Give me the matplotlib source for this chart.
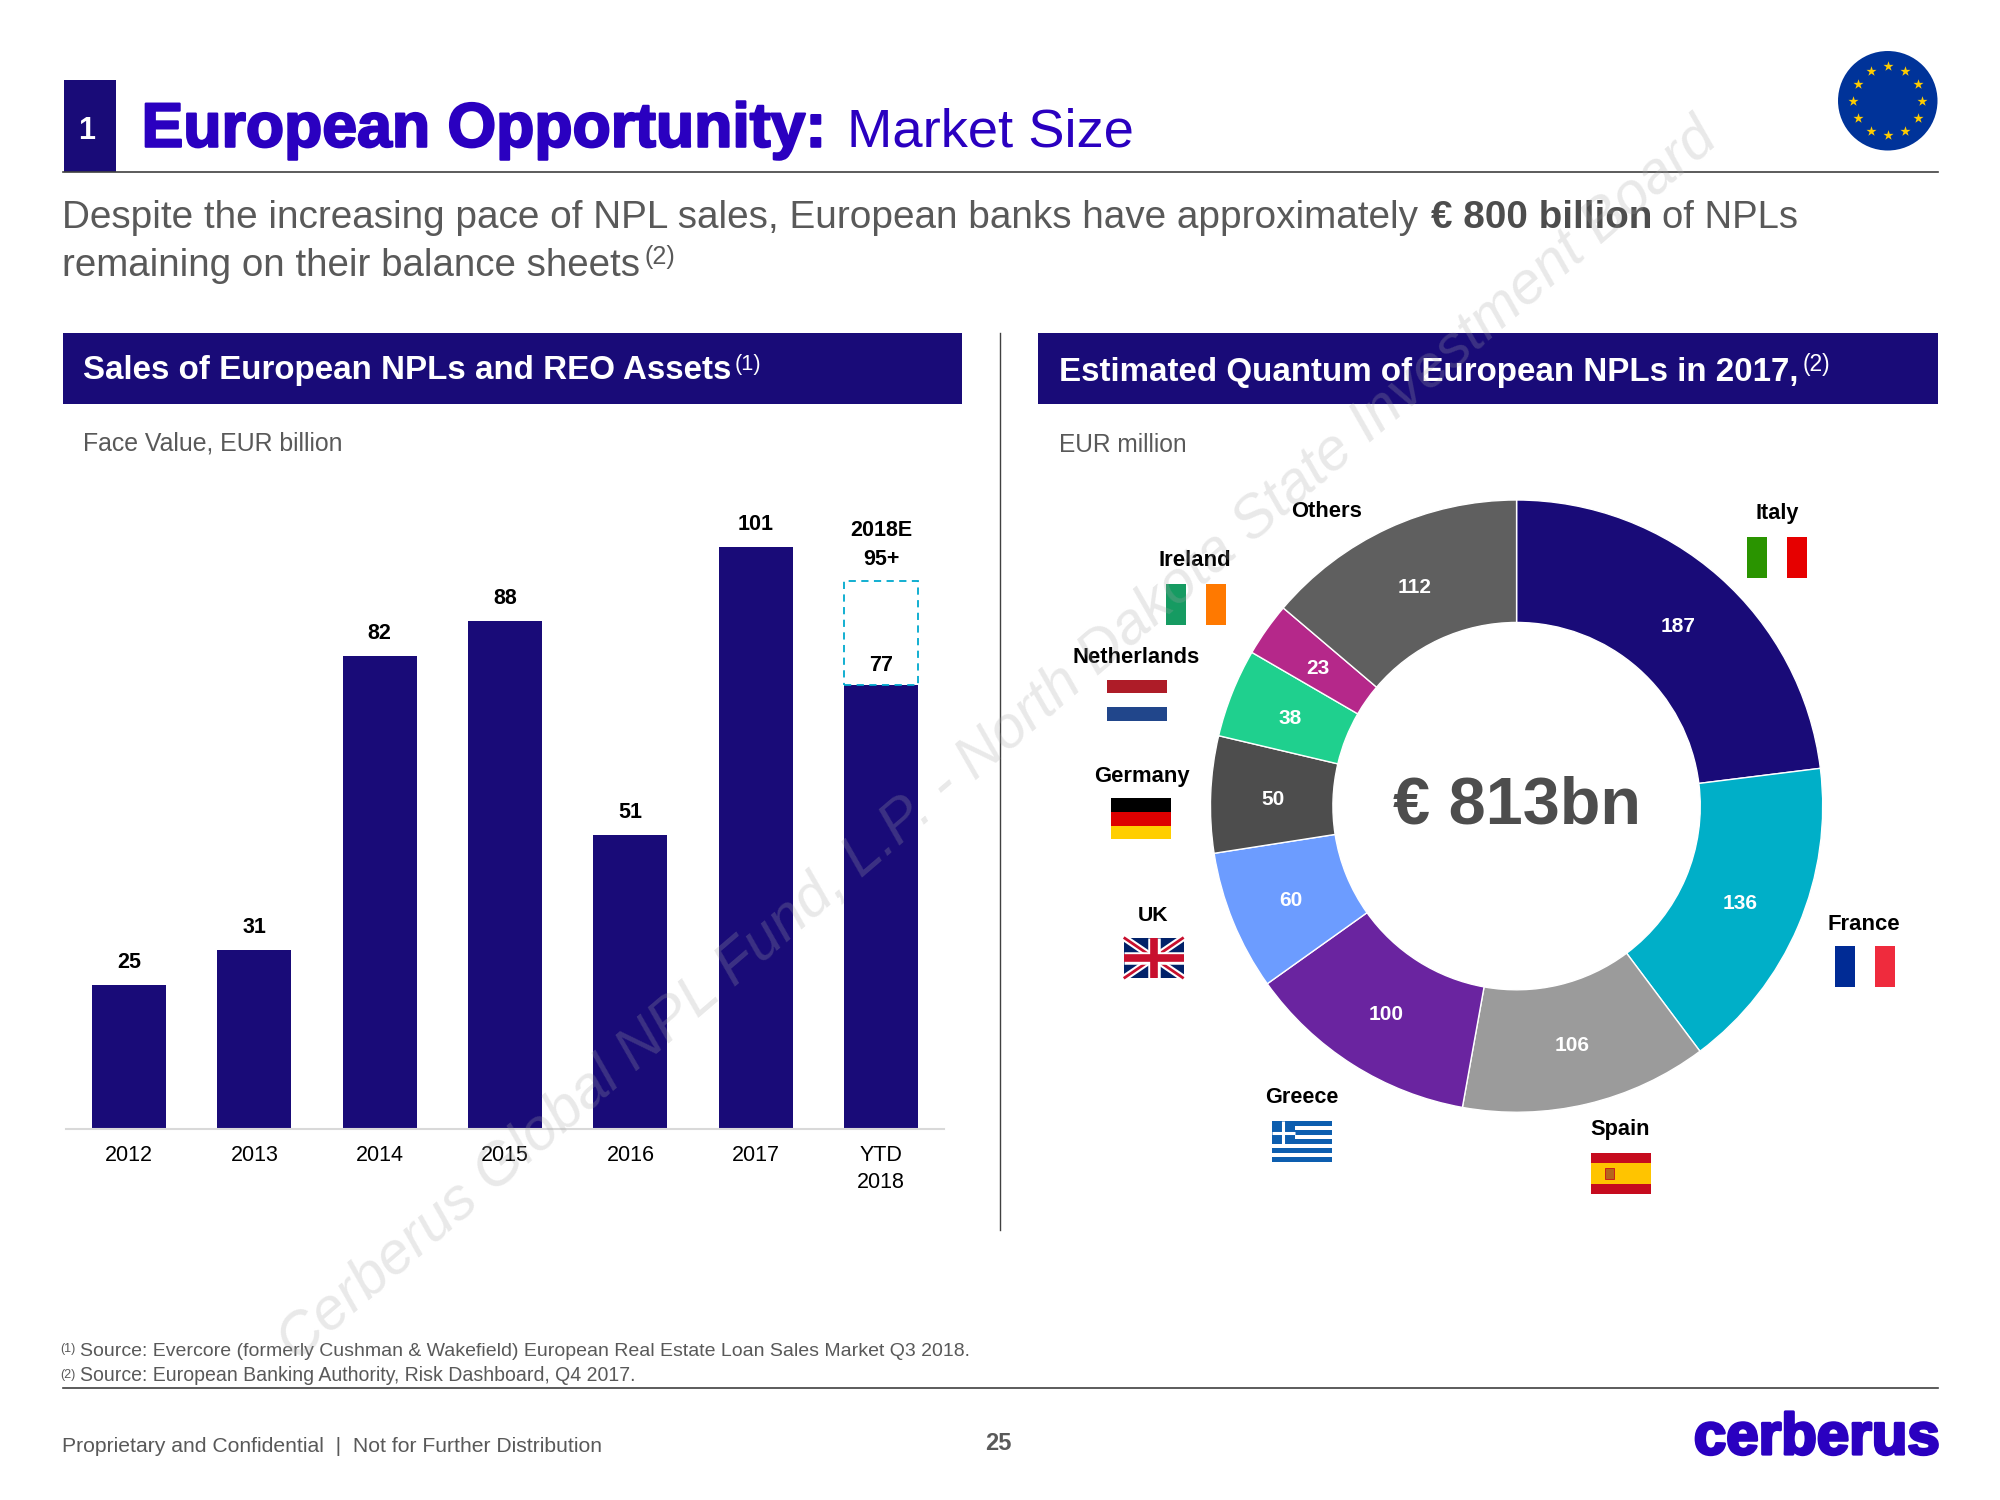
import numpy as np
import matplotlib
matplotlib.use("Agg")
import matplotlib.pyplot as plt
import matplotlib.patheffects as pe
from matplotlib.patches import Rectangle, Circle

plt.rcParams['font.family'] = ['Liberation Sans', 'DejaVu Sans']

years = ["2012", "2013", "2014", "2015", "2016", "2017", "YTD\n2018"]
sales = [25, 31, 82, 88, 51, 101, 77]
estimate_2018 = 95

countries = ["Italy", "France", "Spain", "Greece", "UK", "Germany", "Netherlands", "Ireland", "Others"]
quantum = [187, 136, 106, 100, 60, 50, 38, 23, 112]
slice_colors = ["#190B78", "#00AFC8", "#9B9B9B", "#6A24A0", "#6C9CFF", "#4D4D4D", "#1FD08E", "#B5288A", "#5F5F5F"]

NAVY = "#190B78"
TITLE_BLUE = "#2A00C0"
GREY = "#595959"
LINE = "#404040"

# slide units, 2000 px = 1568 units
W, H = 1568, 1176
PX = 2000 / W

fig = plt.figure(figsize=(20, 15), dpi=100)
bg = fig.add_axes([0, 0, 1, 1], zorder=0)
bg.set_xlim(0, W)
bg.set_ylim(H, 0)
bg.axis("off")


def put(x, y, s, width=None, size=14, color=GREY, ax=bg, **kw):
    # no letter spacing in matplotlib, so size the string to the wanted width
    kw.setdefault("va", "baseline")
    t = ax.text(x, y, s, fontsize=size, color=color, **kw)
    if width is not None:
        w = t.get_window_extent(fig.canvas.get_renderer()).width / PX
        t.set_fontsize(size * width / w)
    return t


def stripes(x, y, cols, vertical=False, w=47, h=32):
    n = len(cols)
    for i, c in enumerate(cols):
        if vertical:
            bg.add_patch(Rectangle((x + i * w / n, y), w / n, h, fc=c, ec="none"))
        else:
            bg.add_patch(Rectangle((x, y + i * h / n), w, h / n, fc=c, ec="none"))


# title bar
bg.add_patch(Rectangle((50, 63), 41, 72, fc=NAVY, ec="none"))
put(68, 109, "1", size=22, color="white", ha="center", fontweight="bold")
bg.plot([49, 1519], [135, 135], color=LINE, lw=1.2)
put(111, 115, "European Opportunity:", width=538, size=42, color=TITLE_BLUE, fontweight="bold",
    path_effects=[pe.withStroke(linewidth=1.6, foreground=TITLE_BLUE)])
put(664, 115, "Market Size", width=225, size=34, color=TITLE_BLUE)

# EU logo
bg.add_patch(Circle((1480, 79), 39, fc="#003399", ec="none"))
ang = np.arange(12) * np.pi / 6
bg.scatter(1480 + 27 * np.cos(ang), 79 + 27 * np.sin(ang), marker="*", s=58, color="#FFCC00", linewidths=0, zorder=3)

# sub heading
put(49, 179, "Despite the increasing pace of NPL sales, European banks have approximately", width=1064, size=24)
put(1122, 179, "€ 800 billion", width=174, size=24, color="#4D4D4D", fontweight="bold")
put(1303, 179, "of NPLs", width=107, size=24)
put(49, 216, "remaining on their balance sheets", width=453, size=24)
put(505, 207, "(2)", width=24, size=15)

# section headers
bg.add_patch(Rectangle((49, 261), 705, 56, fc=NAVY, ec="none"))
bg.add_patch(Rectangle((814, 261), 705, 56, fc=NAVY, ec="none"))
put(65, 297, "Sales of European NPLs and REO Assets", width=509, size=21, color="white", fontweight="bold")
put(576, 290, "(1)", width=21, size=13, color="white")
put(830, 299, "Estimated Quantum of European NPLs in 2017,", width=580, size=21, color="white", fontweight="bold")
put(1413, 291, "(2)", width=22, size=13, color="white")
put(65, 353, "Face Value, EUR billion", width=205, size=15)
put(830, 354, "EUR million", width=101, size=15)
bg.plot([784, 784], [261, 964], color=LINE, lw=1)

# bar chart, 110 on the y axis is 497 units tall
axb = fig.add_axes([52 / W, (H - 885) / H, 688 / W, 497.2 / H], zorder=1)
axb.patch.set_alpha(0)
x = np.arange(len(years))
axb.bar(x, sales, width=0.59, color=NAVY)
axb.bar(x[-1], estimate_2018 - sales[-1], bottom=sales[-1], width=0.59, fc="white", ec="#00A9CE", lw=1.3,
        linestyle=(0, (4, 3)))
axb.set_xlim(-0.5, 6.5)
axb.set_ylim(0, 110)
axb.set_xticks(x)
axb.set_xticklabels(years, fontsize=15.5, color="black", linespacing=1.35)
axb.tick_params(axis="x", length=0, pad=12)
axb.set_yticks([])
for s in ["top", "left", "right"]:
    axb.spines[s].set_visible(False)
axb.spines["bottom"].set_color("#D9D9D9")
axb.spines["bottom"].set_linewidth(1.5)
for i, v in enumerate(sales[:-1]):
    axb.text(i, v + 3.9, str(v), ha="center", va="center", fontsize=15.5, fontweight="bold", color="black")
axb.text(6, sales[-1] + 3.45, str(sales[-1]), ha="center", va="center", fontsize=15.5, fontweight="bold", color="black")
axb.text(6, estimate_2018 + 3.7, "95+", ha="center", va="center", fontsize=15.5, fontweight="bold", color="black")
axb.text(6, estimate_2018 + 8.7, "2018E", ha="center", va="center", fontsize=15.5, fontweight="bold", color="black")

# donut
axp = fig.add_axes([949 / W, (H - 872) / H, 480 / W, 480 / H], zorder=1)
wedges, _ = axp.pie(quantum, colors=slice_colors, startangle=90, counterclock=False, radius=1,
                    wedgeprops=dict(width=0.4, edgecolor="white", linewidth=1))
axp.set_xlim(-1, 1)
axp.set_ylim(-1, 1)
for w, v in zip(wedges, quantum):
    a = np.deg2rad((w.theta1 + w.theta2) / 2)
    axp.text(0.795 * np.cos(a), 0.795 * np.sin(a) - 0.008, str(v), ha="center", va="center", color="white",
             fontsize=15, fontweight="bold")
axp.text(0, -0.002, "€ 813bn", ha="center", va="center", fontsize=48, fontweight="bold", color="#4D4D4D")

# country labels and flags
label_pos = [(1393, 407), (1461, 729), (1270, 890), (1021, 865), (904, 722), (895, 613), (891, 520), (937, 444), (1040, 405)]
label_w = [34, 57, 47, 58, 24, 75, 100, 57, 56]
for name, (lx, ly), lw_ in zip(countries, label_pos, label_w):
    put(lx, ly, name, width=lw_, size=15, color="black", fontweight="bold", ha="center")

stripes(1370, 421, ["#2A9400", "white", "#E60000"], vertical=True)
stripes(1439, 742, ["#002B95", "white", "#EF2B3D"], vertical=True)
stripes(914, 458, ["#169B62", "white", "#FF7900"], vertical=True)
stripes(871, 626, ["black", "#DD0000", "#FFCE00"])
stripes(868, 533, ["#AE1C28", "white", "#21468B"])
stripes(1247, 904, ["#C60B1E", "#FFC400", "#FFC400", "#C60B1E"])
bg.add_patch(Rectangle((1258, 916), 7, 8, fc="#B5651D", ec="#C60B1E", lw=0.6))
stripes(997, 879, ["#0D5EAF", "white"] * 4 + ["#0D5EAF"])
bg.add_patch(Rectangle((997, 879), 18, 17.8, fc="#0D5EAF", ec="none"))
bg.plot([997, 1015], [887.9, 887.9], color="white", lw=2.2, solid_capstyle="butt")
bg.plot([1006, 1006], [879, 896.8], color="white", lw=2.2, solid_capstyle="butt")
# union flag
ux, uy, uw, uh = 881, 735, 47, 32
bg.add_patch(Rectangle((ux, uy), uw, uh, fc="#012169", ec="none"))
for lw_, c in [(5, "white"), (2, "#C8102E")]:
    for yy in [(uy, uy + uh), (uy + uh, uy)]:
        bg.plot([ux, ux + uw], yy, color=c, lw=lw_, solid_capstyle="butt")
for lw_, c in [(9, "white"), (5.5, "#C8102E")]:
    bg.plot([ux, ux + uw], [uy + uh / 2] * 2, color=c, lw=lw_, solid_capstyle="butt")
    bg.plot([ux + uw / 2] * 2, [uy, uy + uh], color=c, lw=lw_, solid_capstyle="butt")

# footnotes and footer
put(47, 1060, "(1)", size=9)
put(63, 1063, "Source: Evercore (formerly Cushman & Wakefield) European Real Estate Loan Sales Market Q3 2018.", width=694, size=13)
put(47, 1080, "(2)", size=9)
put(63, 1083, "Source: European Banking Authority, Risk Dashboard, Q4 2017.", width=434, size=13)
bg.plot([49, 1519], [1088, 1088], color=LINE, lw=1.2)
put(49, 1138, "Proprietary and Confidential  |  Not for Further Distribution", width=425, size=14)
put(783, 1137, "25", size=17, fontweight="bold", ha="center")
put(1328, 1140, "cerberus", width=193, size=42, color=TITLE_BLUE, fontweight="bold",
    path_effects=[pe.withStroke(linewidth=2.2, foreground=TITLE_BLUE)])

# watermark over everything
top = fig.add_axes([0, 0, 1, 1], zorder=5)
top.set_xlim(0, W)
top.set_ylim(H, 0)
top.axis("off")
top.text(232, 1068, "Cerberus Global NPL Fund, L.P. - North Dakota State Investment Board", rotation=40.6,
         rotation_mode="anchor", ha="left", va="baseline", fontsize=42.5, style="italic", color="#A6A6A6", alpha=0.25)

fig.savefig("out.png", dpi=100)
